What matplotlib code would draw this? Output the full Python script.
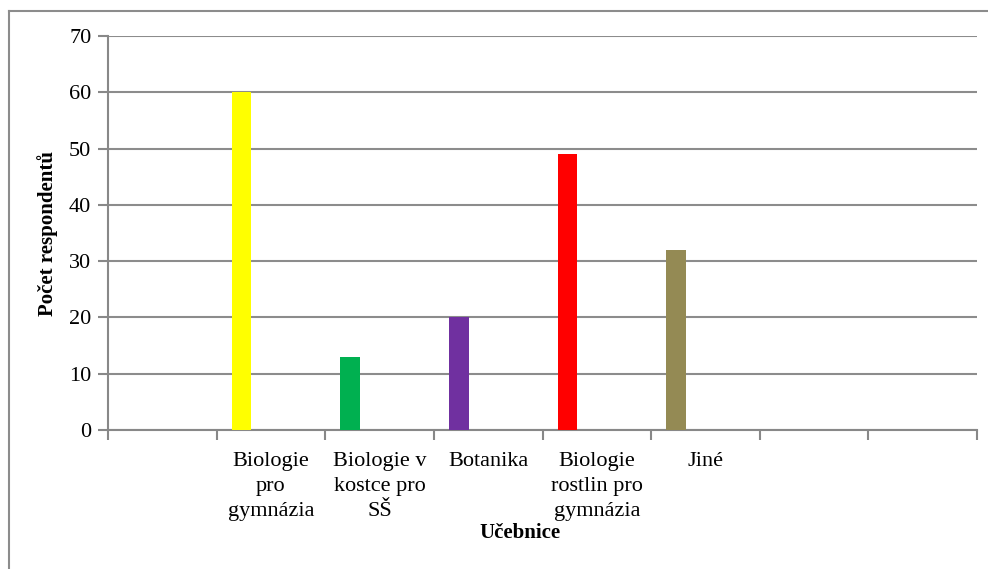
import numpy as np
import matplotlib.pyplot as plt
from matplotlib.lines import Line2D

plt.rcParams['font.family'] = ['Liberation Serif', 'DejaVu Serif']

# 8 category slots on the axis, only five carry data
slot_labels = ["", "Biologie\npro\ngymnázia", "Biologie v\nkostce pro\nSŠ", "Botanika",
               "Biologie\nrostlin pro\ngymnázia", "Jiné", "", ""]
values = [None, 60, 13, 20, 49, 32, None, None]
colors = [None, "#FFFF00", "#00B050", "#7030A0", "#FF0000", "#948A54", None, None]

fig = plt.figure(figsize=(9.88, 5.69), dpi=100)
ax = fig.add_axes([108/988, 1-430/569, (977-108)/988, (430-36)/569])

n = len(slot_labels)
for i, v in enumerate(values):
    if v is None:
        continue
    ax.bar(i + 0.14, v, width=0.18, align='edge', color=colors[i], zorder=3)

ax.set_xlim(0, n)
ax.set_ylim(0, 70)
ax.set_yticks(np.arange(0, 71, 10))
ax.set_xticks(np.arange(0, n + 1))
ax.set_xticklabels([])
ax.set_xticks(np.arange(n) + 0.5, minor=True)
ax.set_xticklabels(slot_labels, minor=True, fontsize=16, va='top', linespacing=1.42)
ax.tick_params(axis='x', which='minor', length=0, pad=16)
ax.tick_params(axis='x', which='major', length=7, width=1.5, color='#888888')
ax.tick_params(axis='y', length=7, width=1.5, color='#888888', labelsize=16, pad=5)

ax.grid(axis='y', color='#8c8c8c', linewidth=1.5, zorder=0)
for s in ['top', 'right']:
    ax.spines[s].set_visible(False)
for s in ['left', 'bottom']:
    ax.spines[s].set_color('#888888')
    ax.spines[s].set_linewidth(1.5)

fig.text(48/988, 1-233/569, "Počet respondentů", rotation=90, fontsize=15,
         fontweight='bold', ha='center', va='center')
fig.text(520/988, 1-533/569, "Učebnice", fontsize=15, fontweight='bold',
         ha='center', va='center')

# outer chart frame (top and left edges visible)
fig.add_artist(Line2D([9/988, 1], [1-11/569, 1-11/569], color='#8c8c8c', lw=1.5))
fig.add_artist(Line2D([9/988, 9/988], [0, 1-11/569], color='#8c8c8c', lw=1.5))

fig.savefig("out.png", dpi=100)
